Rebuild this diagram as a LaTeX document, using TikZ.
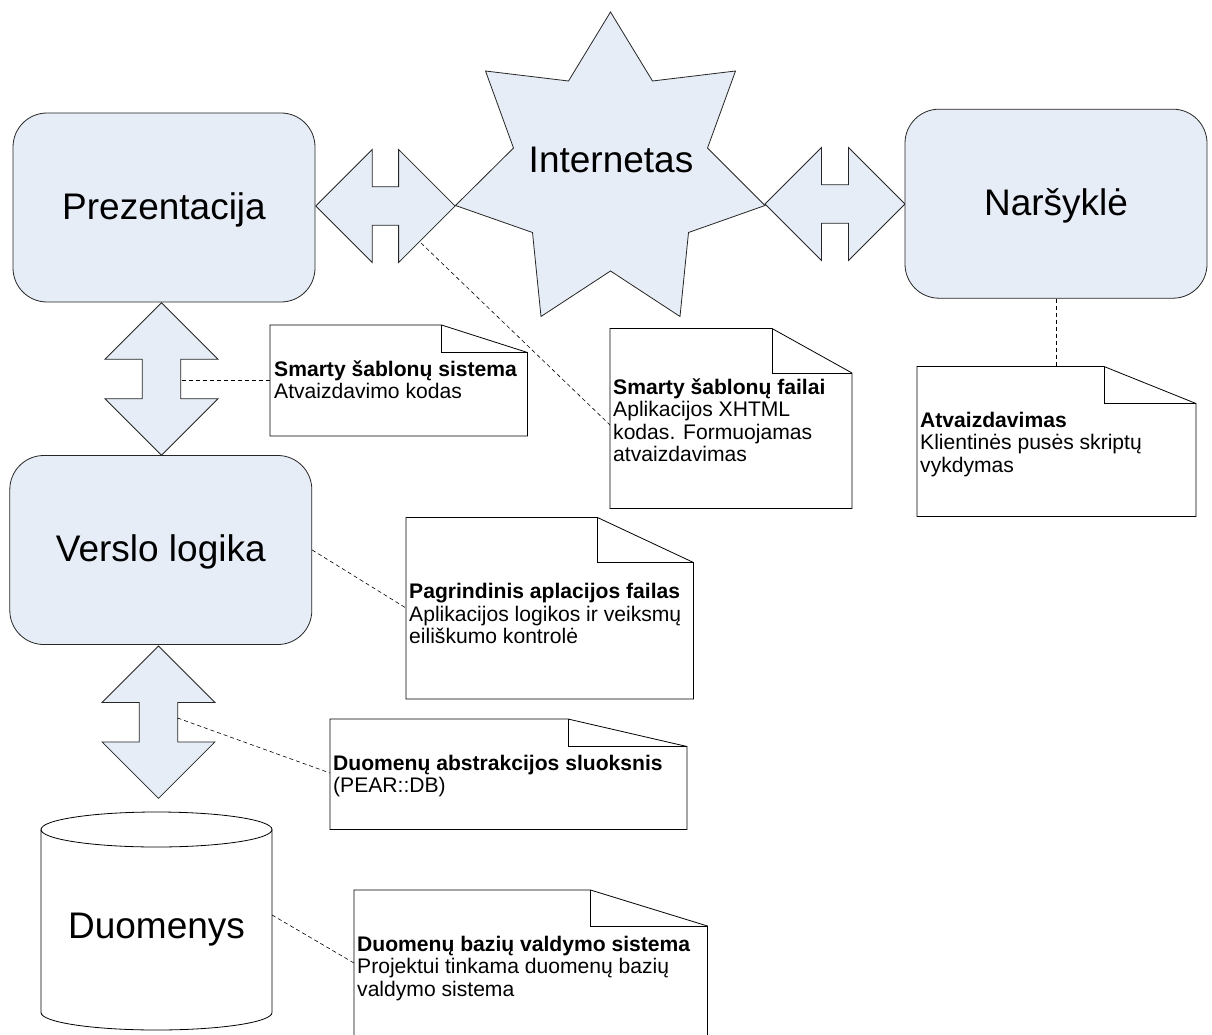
\documentclass[tikz,border=0pt]{standalone}
\usepackage{fontspec}
\setmainfont{Liberation Sans}
\definecolor{paleblue}{RGB}{231,237,247}
\newcommand\tierfont{\fontsize{37}{44}\selectfont}
\newcommand\memofont{\fontsize{21.1}{22.5}\selectfont}
% folded-corner note: x1, y1, x2, y2, fold x, fold y
\newcommand\docnote[6]{%
  \path[memo] (#1,#2) -- (#5,#2) -- (#3,#6) -- (#3,#4) -- (#1,#4) -- cycle;
  \draw[memoline] (#5,#2) -- (#5,#6) -- (#3,#6);}
\begin{document}
\begin{tikzpicture}[x=1pt,y=-1pt,
  outline/.style={draw=black!85, line width=0.8pt},
  tier/.style={outline, fill=paleblue, rounded corners=34pt,
    minimum width=302pt, minimum height=189pt, inner sep=0pt,
    font=\tierfont, text height=27pt, text depth=4pt},
  flowarrow/.style={outline, fill=paleblue, line join=miter},
  memo/.style={draw=black, line width=0.8pt, fill=white},
  memoline/.style={draw=black, line width=0.8pt},
  memotext/.style={anchor=base west, inner sep=0pt, font=\memofont},
  bigtext/.style={anchor=base, inner sep=0pt, font=\tierfont},
  leader/.style={draw=black, line width=0.6pt, dash pattern=on 4pt off 3pt},
  dblarrow/.pic={
    \path[flowarrow] (-#1,0) -- (-#1+56.5,-56.5) -- (-#1+56.5,-19.3)
      -- (#1-56.5,-19.3) -- (#1-56.5,-56.5) -- (#1,0) -- (#1-56.5,56.5)
      -- (#1-56.5,19.3) -- (-#1+56.5,19.3) -- (-#1+56.5,56.5) -- cycle;
  }]

% page
\clip (0,0) rectangle (1212,1035);
\fill[white] (0,0) rectangle (1212,1035);

% two-headed arrows between the layers
\pic (linkPI) at (385.4,206) {dblarrow=69.7};
\pic (linkIN) at (835,204) {dblarrow=70};
\pic[rotate=90] (linkPV) at (161.5,379) {dblarrow=76.2};
\pic[rotate=90] (linkVD) at (158.5,722.2) {dblarrow=76.2};

% the internet star
\path[flowarrow] (610.5,12) -- (652.5,81) -- (735.5,71) -- (707.5,148)
  -- (765,205.5) -- (688.5,232.5) -- (680,316.5) -- (610.5,271)
  -- (541,316.5) -- (532.5,232.5) -- (455.5,205.5) -- (513.5,148)
  -- (485.5,71) -- (568.5,81) -- cycle;
\node[bigtext] (inet) at (611,173) {Internetas};

% layer boxes
\node[tier] (prez) at (164,207.5) {Prezentacija};
\node[tier] (verslo) at (160.8,550) {Verslo logika};
\node[tier] (nars) at (1056,203.7) {Naršyklė};

% database cylinder
\path[memo] (41,829.5) -- (41,1012.5)
  .. controls (41,1022.2) and (92.7,1030) .. (156.5,1030)
  .. controls (220.3,1030) and (272,1022.2) .. (272,1012.5) -- (272,829.5);
\draw[memoline] (156.5,829.5) ellipse [x radius=115.5, y radius=17.5];
\node[bigtext] (duom) at (156.5,938) {Duomenys};

% notes
\docnote{270}{325}{527.5}{436}{441.5}{352.5}
\docnote{610}{328.5}{852}{508.5}{772}{373}
\docnote{917}{366.5}{1196}{516.5}{1104}{403.5}
\docnote{406}{517.5}{693.5}{699}{597.5}{562.5}
\docnote{330}{719}{687}{829.5}{568}{746.5}
\docnote{354}{890}{707.5}{1060}{590.5}{926}

\node[memotext] (t1) at (274,376) {\vtop{\hbox{\bfseries Smarty šablonų sistema}\hbox{Atvaizdavimo kodas}}};
\node[memotext] (t2) at (613,394) {\vtop{\hbox{\bfseries Smarty šablonų failai}\hbox{Aplikacijos XHTML}\hbox{kodas. Formuojamas}\hbox{atvaizdavimas}}};
\node[memotext] (t3) at (920,427) {\vtop{\hbox{\bfseries Atvaizdavimas}\hbox{Klientinės pusės skriptų}\hbox{vykdymas}}};
\node[memotext] (t4) at (409,598.5) {\vtop{\hbox{\bfseries Pagrindinis aplacijos failas}\hbox{Aplikacijos logikos ir veiksmų}\hbox{eiliškumo kontrolė}}};
\node[memotext] (t5) at (333,770) {\vtop{\hbox{\bfseries Duomenų abstrakcijos sluoksnis}\hbox{(PEAR::DB)}}};
\node[memotext] (t6) at (357,951) {\vtop{\hbox{\bfseries Duomenų bazių valdymo sistema}\hbox{Projektui tinkama duomenų bazių}\hbox{valdymo sistema}}};

% anchor points of the dashed leaders
\coordinate (pv-e) at (181.5,380);
\coordinate (n1-w) at (270,380);
\coordinate (pi-se) at (421,243);
\coordinate (n2-w) at (610,425);
\coordinate (n3-n) at (1056,366.5);
\coordinate (n4-w) at (406,608);
\coordinate (vd-e) at (177.5,718);
\coordinate (n5-w) at (330,773);
\coordinate (duom-e) at (272,915);
\coordinate (n6-w) at (354,963);

\draw[leader] (pv-e) -- (n1-w);
\draw[leader] (pi-se) -- (n2-w);
\draw[leader] (nars.south) -- (n3-n);
\draw[leader] (verslo.east) -- (n4-w);
\draw[leader] (vd-e) -- (n5-w);
\draw[leader] (duom-e) -- (n6-w);
\end{tikzpicture}
\end{document}
